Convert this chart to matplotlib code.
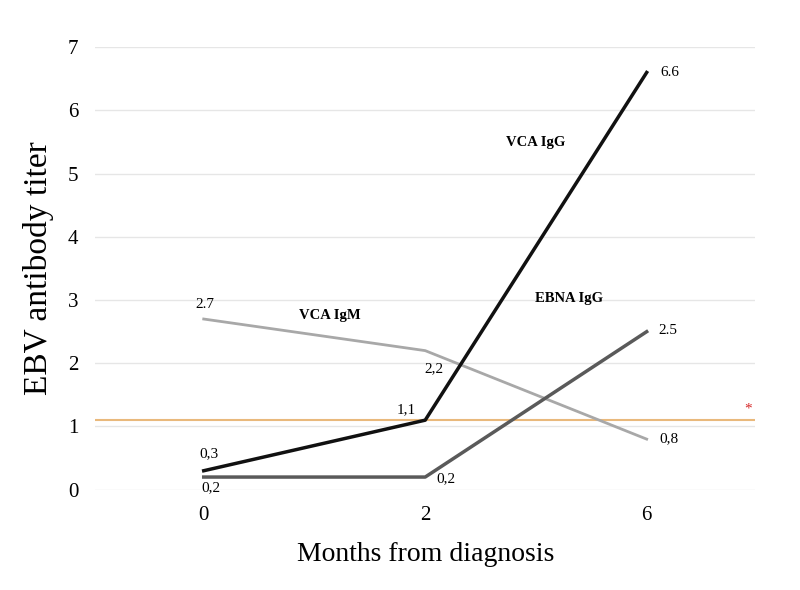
import matplotlib.pyplot as plt

plt.rcParams['font.family'] = ['Liberation Serif', 'DejaVu Serif']

months = ['0', '2', '6']
vca_igg = [0.3, 1.1, 6.6]
vca_igm = [2.7, 2.2, 0.8]
ebna_igg = [0.2, 0.2, 2.5]
cutoff = 1.1

# labels as printed on the original (mixed decimal marks)
igg_labels = ['0,3', '1,1', '6.6']
igm_labels = ['2.7', '2,2', '0,8']
ebna_labels = ['0,2', '0,2', '2.5']

x = range(len(months))

fig = plt.figure(figsize=(8, 5.9), dpi=100)
ax = fig.add_axes([0.119, 0.17, 0.825, 0.75])

ax.axhline(cutoff, color='#e9b97c', lw=1.5, zorder=1)
ax.plot(x, vca_igm, color='#a8a8a8', lw=2, zorder=2)
ax.plot(x, ebna_igg, color='#5a5a5a', lw=2.5, zorder=3)
ax.plot(x, vca_igg, color='#111111', lw=2.5, zorder=4)

fs = 11
# point labels (offsets in points)
ax.annotate(igg_labels[0], (0, vca_igg[0]), xytext=(4, 10), textcoords='offset points', fontsize=fs, ha='center')
ax.annotate(igg_labels[1], (1, vca_igg[1]), xytext=(-14, 5), textcoords='offset points', fontsize=fs, ha='center')
ax.annotate(igg_labels[2], (2, vca_igg[2]), xytext=(17, 0), textcoords='offset points', fontsize=fs, ha='center', va='center')
ax.annotate(igm_labels[0], (0, vca_igm[0]), xytext=(1, 8), textcoords='offset points', fontsize=fs, ha='center')
ax.annotate(igm_labels[1], (1, vca_igm[1]), xytext=(6, -13), textcoords='offset points', fontsize=fs, ha='center', va='center')
ax.annotate(igm_labels[2], (2, vca_igm[2]), xytext=(16, 0), textcoords='offset points', fontsize=fs, ha='center', va='center')
ax.annotate(ebna_labels[0], (0, ebna_igg[0]), xytext=(5, -8), textcoords='offset points', fontsize=fs, ha='center', va='center')
ax.annotate(ebna_labels[1], (1, ebna_igg[1]), xytext=(15, -1), textcoords='offset points', fontsize=fs, ha='center', va='center')
ax.annotate(ebna_labels[2], (2, ebna_igg[2]), xytext=(15, 1), textcoords='offset points', fontsize=fs, ha='center', va='center')

# series names
ax.text(1.5, 5.5, 'VCA IgG', fontsize=10.5, ha='center', va='center', fontweight='semibold')
ax.text(0.57, 2.75, 'VCA IgM', fontsize=10.5, ha='center', va='center', fontweight='semibold')
ax.text(1.65, 3.02, 'EBNA IgG', fontsize=10.5, ha='center', va='center', fontweight='semibold')
ax.text(2.46, 1.28, '*', color='#d62728', fontsize=11, ha='center', va='center')

ax.set_xlim(-0.49, 2.49)
ax.set_ylim(0, 7)
ax.set_yticks(range(8))
ax.set_xticks(list(x))
ax.set_xticklabels(months)
ax.yaxis.grid(True, color='#e6e6e6', lw=1)
ax.set_axisbelow(True)
for s in ax.spines.values():
    s.set_visible(False)
ax.tick_params(length=0, labelsize=15)
ax.tick_params(axis='x', pad=12)
ax.tick_params(axis='y', pad=12)

ax.set_xlabel('Months from diagnosis', fontsize=20, labelpad=12)
ax.set_ylabel('EBV antibody titer', fontsize=24, labelpad=10)

fig.savefig('out.png', dpi=100)
